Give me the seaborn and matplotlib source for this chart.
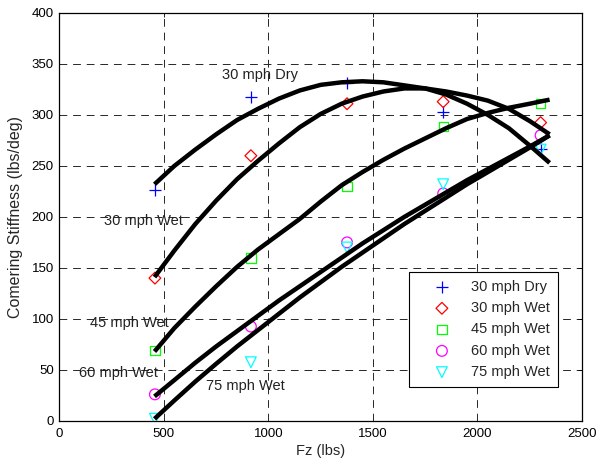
import numpy as np
import pandas as pd
import matplotlib
matplotlib.use("Agg")
import matplotlib.pyplot as plt
import seaborn as sns

# ---- measured points ----
fz_points = [457, 916, 1376, 1836, 2302]
dry30_pts = [226.5, 317.6, 331, 303, 267]
wet30_pts = [140, 260, 311, 313, 292.5]
wet45_pts = [69, 159.6, 230, 288.5, 311.5]
wet60_pts = [26, 92.5, 175, 223, 280]
wet75_pts = [2, 57.5, 170, 232, 266]

# ---- fitted curves ----
fz_curve = [455, 550, 650, 750, 850, 950, 1050, 1150, 1250, 1350,
            1450, 1550, 1650, 1750, 1850, 1950, 2050, 2150, 2250, 2345]
dry30_curve = [232, 250, 266, 281, 295, 306, 316, 324, 329.5, 332,
               333, 332, 329, 326, 320, 311, 300, 287, 270, 253]
wet30_curve = [141, 167, 193, 216, 237, 255, 272, 288, 301, 311,
               318, 323, 326, 326, 323, 319, 314, 306, 294, 281]
wet45_curve = [68, 91, 112, 132, 151, 168, 183, 198, 215, 231,
               244, 256, 267, 277, 287, 296, 302, 307, 311, 315]
wet60_curve = [24, 40, 57, 73, 88, 103, 118, 132, 146, 160,
               174, 187, 200, 212, 224, 236, 247, 258, 269, 280]
wet75_curve = [2, 20, 38.5, 56, 73, 89, 105, 121, 136, 151,
               165, 179, 193, 206, 219, 232, 244, 256, 268, 280]

labels = ["30 mph Dry", "30 mph Wet", "45 mph Wet", "60 mph Wet", "75 mph Wet"]
x_ticks = [0, 500, 1000, 1500, 2000, 2500]
y_ticks = [0, 50, 100, 150, 200, 250, 300, 350, 400]

sns.set_theme(style="white")
plt.rcParams["font.family"] = ["Liberation Sans", "DejaVu Sans"]
plt.rcParams["xtick.direction"] = "in"
plt.rcParams["ytick.direction"] = "in"

fig = plt.figure(figsize=(6.0, 4.63), dpi=100)
ax = fig.add_axes([0.099, 0.091, 0.871, 0.881])

pts_series = [dry30_pts, wet30_pts, wet45_pts, wet60_pts, wet75_pts]
curve_series = [dry30_curve, wet30_curve, wet45_curve, wet60_curve, wet75_curve]
markers = ["+", "D", "s", "o", "v"]
colors = ["#0000ff", "#ff0000", "#00ff00", "#ff00ff", "#00ffff"]
sizes = [65, 36, 45, 60, 60]

for lab, ys, mk, col, sz in zip(labels, pts_series, markers, colors, sizes):
    df = pd.DataFrame({"Fz": fz_points, "K": ys})
    if mk == "+":
        sns.scatterplot(data=df, x="Fz", y="K", ax=ax, marker=mk, color=col,
                        s=sz, linewidth=0.9, label=lab, zorder=2)
    else:
        sns.scatterplot(data=df, x="Fz", y="K", ax=ax, marker=mk, s=sz,
                        facecolor="none", edgecolor=col, linewidth=0.9,
                        label=lab, zorder=2)

for ys in curve_series:
    df = pd.DataFrame({"Fz": fz_curve, "K": ys})
    sns.lineplot(data=df, x="Fz", y="K", ax=ax, color="black", linewidth=3.2,
                 sort=False, estimator=None, zorder=3, legend=False,
                 solid_capstyle="butt")

ax.set_xlim(0, 2500)
ax.set_ylim(0, 400)
ax.set_xticks(x_ticks)
ax.set_yticks(y_ticks)
ax.tick_params(labelsize=9.5, length=3, width=0.6, top=True, right=True,
               colors="black")
ax.tick_params(axis="x", pad=5)
ax.tick_params(axis="y", pad=4)
ax.grid(True, color="0.15", linestyle=(0, (8, 6)), linewidth=0.7)
for sp in ax.spines.values():
    sp.set_color("black")
    sp.set_linewidth(0.9)
ax.set_axisbelow(True)

ax.set_xlabel("Fz (lbs)", fontsize=10.5, labelpad=3)
ax.set_ylabel("Comering Stiffness (lbs/deg)", fontsize=11.5, labelpad=6)

txt = dict(fontsize=10.5, color="#222222", va="center", ha="left", zorder=4)
ax.text(777, 339, "30 mph Dry", **txt)
ax.text(213, 196, "30 mph Wet", **txt)
ax.text(144, 96, "45 mph Wet", **txt)
ax.text(93, 47, "60 mph Wet", **txt)
ax.text(701, 34, "75 mph Wet", **txt)

leg = ax.legend(loc="lower right", bbox_to_anchor=(0.954, 0.083),
                borderaxespad=0, fontsize=10.5, frameon=True, fancybox=False,
                edgecolor="black", framealpha=1, handletextpad=0.3,
                borderpad=0.55, labelspacing=0.5, handlelength=3.4)
leg.get_frame().set_linewidth(0.8)

fig.savefig("out.png", dpi=100)
